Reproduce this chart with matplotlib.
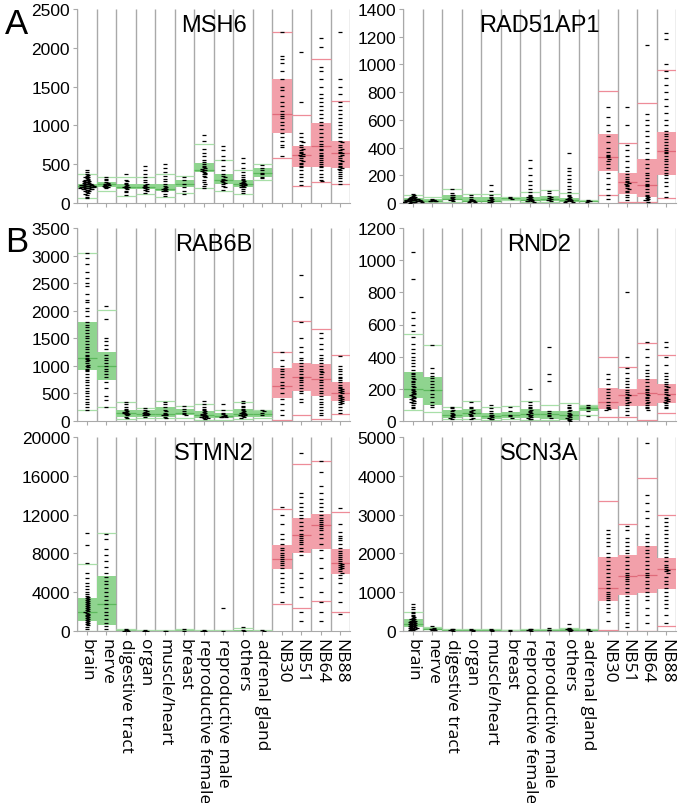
import matplotlib
matplotlib.use("Agg")
import matplotlib.pyplot as plt
import numpy as np

# categories (x labels)
categories = ["brain", "nerve", "digestive tract", "organ", "muscle/heart", "breast",
              "reproductive female", "reproductive male", "others", "adrenal gland",
              "NB30", "NB51", "NB64", "NB88"]
n_tissue = 10  # first 10 are normal tissues (green), rest neuroblastoma (red)

# box stats per category: [low line, q1, median, q3, high line]
msh6_box = [[60, 190, 215, 250, 370], [160, 210, 240, 270, 340], [90, 180, 210, 240, 340],
            [120, 180, 200, 240, 330], [80, 150, 180, 240, 380], [130, 200, 250, 290, 350],
            [190, 400, 420, 510, 760], [160, 250, 300, 370, 550], [120, 210, 250, 300, 430],
            [300, 330, 390, 450, 500], [580, 900, 1150, 1600, 2200], [220, 460, 620, 740, 1140],
            [270, 460, 730, 1030, 1860], [240, 450, 640, 800, 1310]]
rad51ap1_box = [[0, 10, 20, 35, 60], [5, 10, 18, 30, 40], [10, 20, 30, 60, 100],
                [0, 5, 15, 40, 65], [0, 5, 15, 40, 65], [20, 25, 35, 45, 45],
                [5, 15, 25, 45, 80], [5, 15, 30, 50, 95], [3, 10, 20, 35, 75],
                [2, 5, 15, 20, 25], [55, 230, 330, 495, 810], [10, 65, 150, 220, 430],
                [5, 45, 130, 320, 720], [35, 205, 375, 510, 960]]
rab6b_box = [[200, 920, 1150, 1790, 3050], [260, 740, 1000, 1250, 2020], [30, 80, 150, 200, 350],
             [50, 80, 130, 200, 240], [60, 80, 130, 250, 370], [60, 100, 150, 210, 280],
             [20, 60, 100, 180, 300], [20, 50, 90, 150, 200], [30, 80, 130, 210, 350],
             [60, 70, 130, 190, 200], [20, 420, 630, 970, 1250], [100, 540, 800, 1060, 1810],
             [40, 460, 770, 1040, 1670], [130, 360, 510, 700, 1190]]
rnd2_box = [[70, 145, 200, 305, 540], [55, 100, 190, 275, 470], [10, 20, 40, 70, 90],
            [10, 25, 50, 75, 125], [5, 15, 30, 50, 90], [10, 20, 35, 55, 95],
            [5, 20, 45, 75, 125], [5, 15, 45, 65, 100], [0, 5, 35, 60, 110],
            [40, 60, 80, 100, 100], [25, 75, 120, 205, 395], [25, 95, 160, 200, 335],
            [5, 95, 175, 260, 485], [50, 110, 165, 230, 410]]
stmn2_box = [[0, 1000, 2000, 3450, 6900], [0, 600, 2800, 5700, 10100], [0, 20, 50, 100, 200],
             [0, 10, 30, 50, 100], [0, 10, 20, 40, 60], [0, 20, 50, 100, 200],
             [0, 10, 30, 50, 100], [0, 10, 30, 60, 150], [0, 20, 50, 100, 300],
             [0, 20, 50, 100, 150], [2800, 6400, 7400, 8900, 12600], [2400, 8000, 9900, 11700, 17200],
             [3100, 8500, 10900, 12100, 17500], [2000, 5900, 7000, 8500, 12300]]
scn3a_box = [[0, 100, 180, 300, 500], [10, 20, 40, 80, 110], [0, 10, 20, 30, 60],
             [0, 10, 15, 25, 40], [0, 10, 15, 25, 40], [0, 10, 15, 20, 30],
             [0, 10, 20, 30, 50], [0, 10, 20, 30, 60], [0, 10, 25, 40, 80],
             [0, 10, 15, 25, 40], [30, 780, 1100, 1900, 3350], [0, 930, 1420, 1970, 2750],
             [0, 990, 1450, 2180, 3940], [120, 1070, 1590, 1890, 2990]]

# individual sample values per category
msh6_dots = [
    [430, 400, 380, 360, 350, 340, 330, 320, 310, 300, 295, 290, 285, 280, 275, 270, 265, 260, 255, 250,
     248, 245, 242, 240, 238, 235, 232, 230, 228, 225, 222, 220, 218, 215, 212, 210, 208, 205, 202, 200,
     198, 195, 192, 190, 188, 185, 182, 180, 175, 170, 165, 160, 150, 140, 130, 120, 100, 80, 60],
    [340, 310, 290, 270, 260, 250, 245, 240, 235, 230, 225, 220, 210, 200, 190],
    [380, 300, 280, 260, 240, 230, 220, 210, 205, 200, 190, 180, 160, 140, 100],
    [480, 430, 380, 340, 300, 270, 250, 230, 220, 210, 200, 190, 180, 170, 150, 130],
    [500, 450, 400, 350, 310, 280, 250, 220, 200, 190, 180, 175, 170, 160, 150, 120, 90],
    [330, 290, 250, 200, 150, 110],
    [870, 800, 700, 650, 600, 560, 530, 500, 480, 460, 450, 440, 430, 420, 410, 400, 390, 380, 370, 350,
     330, 300, 270, 250, 220, 190],
    [730, 680, 600, 550, 480, 420, 380, 350, 330, 310, 300, 290, 280, 270, 260, 240, 220, 200, 170],
    [580, 520, 450, 400, 360, 330, 310, 290, 280, 270, 260, 255, 250, 245, 240, 235, 230, 220, 210, 200,
     180, 150, 130],
    [490, 450, 420, 390, 370, 340, 320],
    [2200, 1900, 1850, 1800, 1700, 1600, 1500, 1450, 1380, 1300, 1250, 1180, 1150, 1120, 1100, 1050, 1000,
     950, 900, 850, 800, 750, 720, 600],
    [1950, 1300, 900, 850, 800, 780, 750, 720, 700, 680, 660, 640, 630, 620, 610, 600, 580, 560, 540, 520,
     500, 480, 460, 420, 380, 330, 280, 230],
    [2130, 2010, 1750, 1700, 1600, 1500, 1400, 1350, 1300, 1250, 1200, 1150, 1100, 1050, 1000, 950, 900,
     850, 800, 760, 730, 700, 680, 650, 620, 600, 580, 550, 530, 500, 480, 460, 420, 380, 330, 300, 280],
    [2200, 1600, 1500, 1400, 1300, 1250, 1200, 1150, 1100, 1050, 1000, 950, 900, 850, 800, 780, 750, 720,
     700, 680, 660, 650, 640, 620, 600, 580, 560, 540, 520, 500, 480, 460, 450, 440, 420, 400, 380, 350,
     320, 280, 250],
]
rad51ap1_dots = [
    [62, 55, 50, 45, 42, 40, 38, 36, 34, 32, 30, 29, 28, 27, 26, 25, 24, 23, 22, 21, 20, 19, 18, 17, 16,
     15, 14, 13, 12, 11, 10, 9, 8, 7, 6, 5, 4, 3],
    [30, 25, 22, 20, 18, 16, 15, 12],
    [100, 70, 60, 55, 45, 40, 35, 30, 25, 20, 15],
    [60, 40, 30, 25, 20, 18, 15, 12, 10, 8],
    [130, 90, 60, 40, 35, 30, 25, 20, 15, 10, 5],
    [40, 35, 30],
    [310, 250, 200, 160, 130, 100, 80, 60, 50, 45, 40, 35, 30, 28, 25, 22, 20, 18, 15, 12, 10],
    [90, 70, 50, 40, 35, 30, 25, 20, 15],
    [360, 250, 230, 200, 170, 150, 120, 100, 80, 60, 50, 40, 35, 30, 28, 25, 22, 20, 18, 15, 12, 10, 8],
    [25, 18, 12, 8],
    [690, 620, 560, 520, 480, 440, 400, 370, 350, 340, 330, 320, 300, 280, 250, 220, 180, 140, 100, 60, 30],
    [690, 560, 420, 380, 340, 300, 260, 230, 210, 190, 170, 160, 150, 145, 140, 130, 120, 110, 100, 90,
     80, 60, 40, 20],
    [1140, 640, 600, 560, 520, 480, 440, 400, 360, 320, 280, 250, 220, 200, 180, 160, 140, 130, 120, 100,
     80, 60, 50, 40, 35, 30, 25, 20, 10],
    [1230, 1180, 1000, 950, 900, 850, 800, 750, 700, 650, 600, 560, 520, 500, 480, 460, 440, 420, 400,
     380, 370, 360, 340, 320, 300, 280, 260, 240, 220, 200, 180, 150, 120, 80, 40],
]
rab6b_dots = [
    [3050, 2950, 2850, 2700, 2600, 2500, 2450, 2300, 2200, 2150, 2050, 2000, 1900, 1800, 1750, 1700,
     1650, 1600, 1550, 1500, 1450, 1400, 1350, 1300, 1250, 1200, 1180, 1150, 1120, 1100, 1080, 1050,
     1020, 1000, 980, 950, 920, 900, 850, 800, 750, 700, 650, 600, 550, 500, 450, 400, 350, 300, 250, 200],
    [2080, 1850, 1500, 1450, 1380, 1300, 1200, 1150, 1100, 1050, 1000, 950, 900, 850, 800, 700, 600,
     450, 380, 260],
    [350, 300, 250, 220, 200, 180, 170, 160, 150, 140, 130, 120, 100, 80, 60],
    [240, 200, 180, 160, 150, 140, 130, 120, 110, 100, 80],
    [350, 300, 250, 200, 180, 150, 130, 120, 110, 100, 80, 60],
    [280, 220, 180, 150, 120, 100],
    [360, 300, 260, 220, 200, 180, 160, 140, 130, 120, 110, 100, 95, 90, 85, 80, 75, 70, 60, 50, 40],
    [300, 200, 150, 120, 100, 90, 85, 80, 75, 70],
    [360, 320, 280, 250, 220, 200, 180, 160, 150, 140, 130, 125, 120, 115, 110, 100, 90, 80, 60],
    [200, 180, 150, 100],
    [1250, 1100, 1000, 950, 900, 850, 800, 700, 650, 600, 500, 400, 300, 200, 100],
    [2650, 2250, 1800, 1500, 1350, 1250, 1150, 1100, 1050, 1000, 950, 900, 850, 800, 780, 750, 700,
     650, 600, 550, 500, 400, 350],
    [1600, 1500, 1400, 1300, 1200, 1150, 1100, 1050, 1000, 950, 900, 880, 850, 800, 750, 700, 650, 600,
     550, 500, 450, 400, 350, 300, 250, 200, 150, 100],
    [1180, 1000, 950, 900, 850, 800, 780, 750, 700, 650, 620, 600, 580, 560, 540, 520, 500, 480, 460,
     440, 420, 400, 380, 360, 340, 320, 300, 250, 200, 150],
]
rnd2_dots = [
    [1050, 880, 680, 640, 600, 560, 520, 480, 450, 420, 400, 380, 360, 340, 320, 300, 290, 280, 270, 260,
     250, 240, 230, 220, 210, 200, 190, 185, 180, 175, 170, 165, 160, 155, 150, 145, 140, 135, 130, 125,
     120, 115, 110, 100, 90, 80],
    [470, 330, 300, 280, 270, 250, 230, 210, 190, 170, 150, 120, 100, 90],
    [90, 80, 70, 60, 50, 45, 40, 35, 30, 25, 20, 15],
    [120, 90, 80, 70, 60, 55, 50, 45, 40, 30, 20, 10],
    [100, 80, 60, 50, 40, 35, 30, 25, 20, 15, 10],
    [90, 60, 40, 30, 20],
    [200, 120, 100, 90, 80, 70, 60, 55, 50, 45, 40, 35, 30, 25, 20, 15, 10],
    [460, 290, 250, 60, 50, 40, 30, 20],
    [100, 90, 80, 70, 60, 50, 45, 40, 35, 30, 25, 20, 15, 10, 5, 2],
    [100, 90, 80, 60, 30],
    [290, 260, 230, 200, 180, 160, 140, 120, 100, 90, 80, 75, 70],
    [800, 400, 330, 300, 270, 250, 230, 210, 190, 180, 170, 160, 150, 140, 130, 120, 110, 100, 80, 60, 40],
    [490, 450, 400, 350, 320, 300, 280, 260, 240, 220, 200, 190, 180, 170, 160, 150, 140, 130, 120, 110,
     100, 90, 80, 70],
    [490, 460, 400, 350, 300, 280, 260, 240, 230, 220, 210, 200, 190, 180, 170, 160, 150, 140, 135, 130,
     125, 120, 110, 100, 90, 80],
]
stmn2_dots = [
    [10100, 8900, 7000, 6000, 5500, 5000, 4600, 4300, 4000, 3800, 3600, 3500, 3400, 3300, 3200, 3100,
     3000, 2900, 2800, 2700, 2600, 2500, 2400, 2300, 2200, 2100, 2000, 1900, 1800, 1700, 1600, 1500,
     1400, 1300, 1200, 1100, 1000, 900, 800, 700, 600, 400, 200],
    [10000, 9500, 8500, 7800, 7200, 6600, 6000, 5600, 5200, 4800, 4400, 4000, 3600, 3200, 2800, 2400,
     2000, 1600, 1200, 800, 500, 200],
    [200, 100, 60, 40, 20],
    [100, 50, 30],
    [50, 20],
    [200, 50],
    [100, 50, 30],
    [2400, 50],
    [400, 100, 50],
    [100, 50],
    [12800, 12000, 11000, 10000, 9500, 9000, 8600, 8300, 8000, 7800, 7600, 7400, 7200, 7000, 6800, 6500,
     6000, 5500, 5000, 4500, 4000, 3000],
    [18400, 14200, 13800, 13200, 12800, 12400, 12000, 11600, 11200, 10800, 10400, 10000, 9800, 9600,
     9400, 9200, 9000, 8600, 8200, 7800, 6000, 5500, 4500, 3500, 2000, 1000],
    [17500, 16400, 15000, 14200, 13600, 13200, 12800, 12400, 12000, 11600, 11400, 11200, 11000, 10800,
     10600, 10400, 10000, 9600, 9000, 8400, 7500, 6500, 5500, 4000, 3000, 2000, 1000],
    [12700, 11000, 10200, 9800, 9600, 9400, 9000, 8600, 8200, 8000, 7800, 7600, 7400, 7200, 7000, 6900,
     6800, 6700, 6600, 6500, 6400, 6200, 6000, 5800, 5500, 5000, 4000, 3000, 1800],
]
scn3a_dots = [
    [700, 620, 560, 500, 460, 420, 390, 360, 340, 320, 300, 280, 270, 260, 250, 240, 230, 220, 210, 200,
     190, 180, 170, 160, 150, 140, 130, 120, 110, 100, 90, 80, 70, 60, 50, 40, 30, 20],
    [120, 80, 60, 50, 40, 30, 20],
    [60, 40, 30, 20, 10],
    [40, 30, 20, 10],
    [40, 30, 20, 10],
    [30, 10],
    [50, 40, 30, 20, 10],
    [80, 30, 20],
    [180, 80, 60, 50, 40, 30, 20, 10],
    [40, 20, 10],
    [2600, 2500, 2400, 2300, 2200, 2000, 1900, 1800, 1700, 1600, 1500, 1400, 1300, 1200, 1100, 1000,
     950, 900, 850, 800, 700, 600, 500, 250],
    [2700, 2600, 2400, 2300, 2200, 2100, 2000, 1900, 1800, 1700, 1600, 1500, 1450, 1400, 1350, 1300,
     1200, 1100, 1000, 900, 800, 700, 600, 500, 400, 200, 100],
    [4850, 3500, 3300, 3100, 2900, 2700, 2500, 2400, 2300, 2200, 2100, 2000, 1900, 1800, 1700, 1600,
     1500, 1450, 1400, 1300, 1200, 1100, 1000, 900, 800, 600, 400, 200],
    [2900, 2800, 2700, 2600, 2500, 2400, 2300, 2200, 2100, 2000, 1900, 1800, 1700, 1650, 1600, 1580,
     1550, 1500, 1400, 1300, 1200, 1100, 1000, 900, 800, 700, 600, 400, 200],
]

genes = ["MSH6", "RAD51AP1", "RAB6B", "RND2", "STMN2", "SCN3A"]
y_max = [2500, 1400, 3500, 1200, 20000, 5000]
y_step = [500, 200, 500, 200, 4000, 1000]
boxes = [msh6_box, rad51ap1_box, rab6b_box, rnd2_box, stmn2_box, scn3a_box]
dots = [msh6_dots, rad51ap1_dots, rab6b_dots, rnd2_dots, stmn2_dots, scn3a_dots]

green_fill, green_med, green_line = "#8fd48f", "#5cb85c", "#a8dfa8"
red_fill, red_med, red_line = "#f2a0aa", "#e06a7a", "#ee8c98"
grid_col = "#a9a9a9"

fig = plt.figure(figsize=(6.8, 8.04), dpi=100)
lefts = [77 / 680, 403 / 680]
width = 273 / 680
rows = [(10, 204), (229, 422), (438, 632)]

for k, gene in enumerate(genes):
    r, c = divmod(k, 2)
    top, bot = rows[r]
    ax = fig.add_axes([lefts[c], 1 - bot / 804, width, (bot - top) / 804])
    ymax = y_max[k]
    for i in range(len(categories)):
        lo, q1, med, q3, hi = boxes[k][i]
        tissue = i < n_tissue
        fill = green_fill if tissue else red_fill
        mcol = green_med if tissue else red_med
        lcol = green_line if tissue else red_line
        ax.fill_between([i, i + 1], q1, q3, color=fill, lw=0, zorder=1)
        ax.hlines(med, i, i + 1, color=mcol, lw=0.9, zorder=2)
        ax.hlines([lo, hi], i, i + 1, color=lcol, lw=0.9, zorder=2)
        # simple beeswarm: spread points that fall in the same value bin
        vals = np.array(dots[k][i], dtype=float)
        bins = np.round(vals / (ymax / 95.0)).astype(int)
        xs = []
        seen = {}
        for b in bins:
            n = seen.get(b, 0)
            seen[b] = n + 1
            off = ((n + 1) // 2) * 0.07 * (1 if n % 2 else -1)
            xs.append(i + 0.5 + off)
        ax.plot(xs, vals, ls="none", marker="_", ms=2.3, mew=0.9, color="black", zorder=3)
    # separators
    ax.vlines(np.arange(0, len(categories) + 1), 0, ymax, color=grid_col, lw=1.0, zorder=0)
    ax.set_xlim(0, len(categories))
    ax.set_ylim(0, ymax)
    ax.set_yticks(np.arange(0, ymax + 1, y_step[k]))
    ax.set_xticks(np.arange(len(categories)) + 0.5)
    for s in ["top", "right"]:
        ax.spines[s].set_visible(False)
    for s in ["left", "bottom"]:
        ax.spines[s].set_color(grid_col)
    ax.tick_params(axis="y", colors="black", labelsize=12.5, length=3, color=grid_col, pad=2)
    ax.tick_params(axis="x", length=3, color=grid_col)
    for t in ax.get_yticklabels():
        t.set_fontfamily("Liberation Sans")
    if r == 2:
        ax.set_xticklabels(categories, rotation=-90, fontsize=12.5, family="Open Sans",
                           va="top", ha="center")
        ax.tick_params(axis="x", pad=2)
    else:
        ax.set_xticklabels([])
    ax.text(0.5, 0.975, gene, transform=ax.transAxes, ha="center", va="top",
            fontsize=17, family="Liberation Sans")

fig.text(5 / 680, 1 - 8 / 804, "A", fontsize=25, family="Liberation Sans", va="top")
fig.text(5 / 680, 1 - 226 / 804, "B", fontsize=25, family="Liberation Sans", va="top")

fig.savefig("out.png", dpi=100)
